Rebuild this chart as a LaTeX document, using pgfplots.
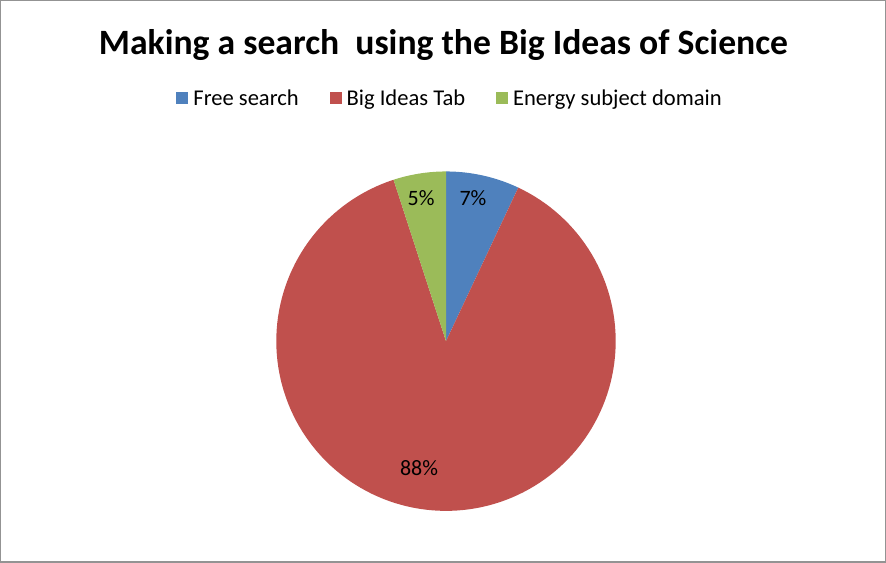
\documentclass[border=0pt]{standalone}
\usepackage{pgfplots}
\pgfplotsset{compat=1.18}
\usepackage{fontspec}
\setmainfont{Carlito}

\definecolor{pieblue}{HTML}{4F81BD}
\definecolor{piered}{HTML}{C0504D}
\definecolor{piegreen}{HTML}{9BBB59}

% shares in percent: Free search 7, Big Ideas Tab 88, Energy subject domain 5
% slices run clockwise from 12 o'clock, 3.6 degrees per percent

\begin{document}
\begin{tikzpicture}
\begin{axis}[
    width=886pt, height=562pt, scale only axis,
    xmin=0, xmax=886, ymin=0, ymax=562,
    xtick=\empty, ytick=\empty,
    axis line style={draw=gray!85, line width=1.5pt},
    clip=false,
    legend columns=3,
    legend style={at={(0.508,0.826)}, anchor=center, draw=none,
        font=\fontsize{22.6}{24}\selectfont,
        /tikz/every odd column/.append style={column sep=3pt},
        /tikz/every even column/.append style={column sep=29pt}},
    legend image code/.code={\fill[#1] (0pt,-6pt) rectangle (12pt,6pt);},
]
    % Free search: 7 %  (90 -> 64.8 deg)
    \addplot[draw=none, fill=pieblue, domain=64.8:90, samples=30]
        ({446+170*cos(x)}, {221+170*sin(x)}) -- (axis cs:446,221) -- cycle;
    % Big Ideas Tab: 88 %  (64.8 -> -252 deg)
    \addplot[draw=none, fill=piered, domain=-252:64.8, samples=150]
        ({446+170*cos(x)}, {221+170*sin(x)}) -- (axis cs:446,221) -- cycle;
    % Energy subject domain: 5 %  (108 -> 90 deg)
    \addplot[draw=none, fill=piegreen, domain=90:108, samples=20]
        ({446+170*cos(x)}, {221+170*sin(x)}) -- (axis cs:446,221) -- cycle;
    \legend{Free search, Big Ideas Tab, Energy subject domain}

    \node[anchor=base, font=\bfseries\fontsize{35.7}{40}\selectfont] at (axis cs:443.5,507.7)
        {Making a search\ \ using the Big Ideas of Science};
    \node[anchor=base, font=\fontsize{22}{24}\selectfont] at (axis cs:473,357) {7\%};
    \node[anchor=base, font=\fontsize{22}{24}\selectfont] at (axis cs:421,357) {5\%};
    \node[anchor=base, font=\fontsize{22}{24}\selectfont] at (axis cs:419,86) {88\%};
\end{axis}
\end{tikzpicture}
\end{document}
